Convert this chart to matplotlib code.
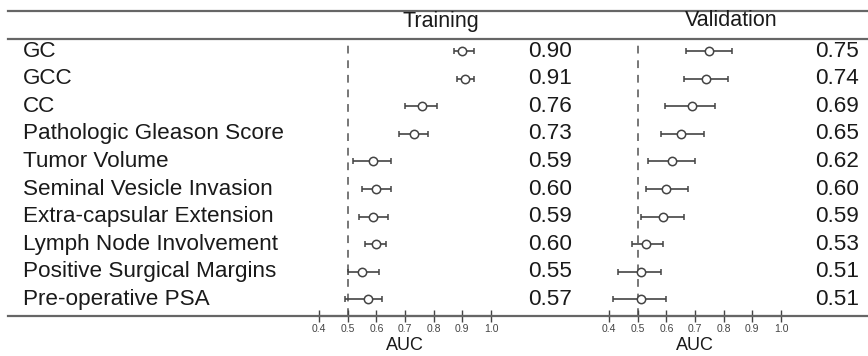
import matplotlib
matplotlib.use('Agg')
import matplotlib.pyplot as plt
from matplotlib.lines import Line2D
from matplotlib.transforms import blended_transform_factory

plt.rcParams['font.family'] = ['Liberation Sans', 'DejaVu Sans']

labels = ['GC', 'GCC', 'CC', 'Pathologic Gleason Score', 'Tumor Volume',
          'Seminal Vesicle Invasion', 'Extra-capsular Extension',
          'Lymph Node Involvement', 'Positive Surgical Margins', 'Pre-operative PSA']

train_auc = [0.90, 0.91, 0.76, 0.73, 0.59, 0.60, 0.59, 0.60, 0.55, 0.57]
train_lo = [0.87, 0.88, 0.70, 0.68, 0.52, 0.55, 0.54, 0.56, 0.50, 0.49]
train_hi = [0.94, 0.94, 0.81, 0.78, 0.65, 0.65, 0.64, 0.635, 0.61, 0.62]

val_auc = [0.75, 0.74, 0.69, 0.65, 0.62, 0.60, 0.59, 0.53, 0.51, 0.51]
val_lo = [0.67, 0.66, 0.595, 0.58, 0.535, 0.53, 0.51, 0.48, 0.43, 0.415]
val_hi = [0.83, 0.815, 0.77, 0.73, 0.70, 0.675, 0.66, 0.59, 0.58, 0.60]

ticks = [0.4, 0.5, 0.6, 0.7, 0.8, 0.9, 1.0]
tick_labels = ['0.4', '0.5', '0.6', '0.7', '0.8', '0.9', '1.0']

W, H = 868, 356
fig = plt.figure(figsize=(W / 100, H / 100), dpi=100)

line_col = '#666666'
text_col = '#1a1a1a'
mark_col = '#444444'

y_top, y_bot = 40, 316
rows = list(range(1, len(labels) + 1))


def panel(left_px, auc, lo, hi, header, header_x, val_right_px):
    ax = fig.add_axes([left_px / W, 1 - y_bot / H, 172 / W, (y_bot - y_top) / H])
    ax.set_xlim(0.4, 1.0)
    ax.set_ylim(10.6, 0.6)
    for s in ['top', 'left', 'right']:
        ax.spines[s].set_visible(False)
    ax.spines['bottom'].set_color(line_col)
    ax.spines['bottom'].set_linewidth(1.5)
    ax.yaxis.set_visible(False)
    ax.set_xticks(ticks)
    ax.set_xticklabels(tick_labels)
    ax.tick_params(axis='x', direction='inout', length=8, width=1,
                   colors=mark_col, labelsize=7.5, pad=2, labelcolor='#444444')
    ax.set_xlabel('AUC', fontsize=13, labelpad=2, color=text_col)
    ax.patch.set_visible(False)

    ax.axvline(0.5, color='#777777', lw=1.4, ls=(0, (4, 3.5)), zorder=1)
    err = [[a - l for a, l in zip(auc, lo)], [h - a for a, h in zip(auc, hi)]]
    ax.errorbar(auc, rows, xerr=err, fmt='o', mfc='white', mec=mark_col,
                mew=1.1, ms=6, ecolor=mark_col, elinewidth=1.2, capsize=2.3,
                capthick=1.1, clip_on=False, zorder=3)

    tr = blended_transform_factory(fig.transFigure, ax.transData)
    for r, a in zip(rows, auc):
        ax.text(val_right_px / W, r, '%.2f' % a, transform=tr, ha='right',
                va='center', fontsize=16.2, color=text_col)
    fig.text(header_x / W, 1 - 21 / H, header, ha='center', va='center',
             fontsize=15.5, color=text_col)
    return ax


ax1 = panel(319, train_auc, train_lo, train_hi, 'Training', 441, 572)
ax2 = panel(609, val_auc, val_lo, val_hi, 'Validation', 731, 859)

tr = blended_transform_factory(fig.transFigure, ax1.transData)
for r, name in zip(rows, labels):
    ax1.text(23 / W, r, name, transform=tr, ha='left', va='center',
             fontsize=16.2, color=text_col)

for yp in [11, 39, 316]:
    fig.add_artist(Line2D([8 / W, 1], [1 - yp / H, 1 - yp / H],
                          transform=fig.transFigure, color=line_col, lw=1.6))

fig.savefig('out.png', dpi=100)
